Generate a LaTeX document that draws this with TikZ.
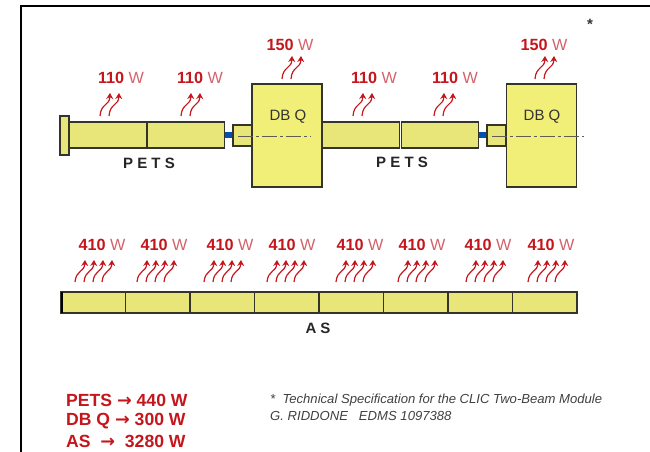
\documentclass[tikz,border=0pt]{standalone}
\usepackage{fontspec}
\setmainfont{Liberation Sans}
\newfontfamily\arrowfont{DejaVu Sans}
\usepackage{tikz}
\usetikzlibrary{arrows.meta}
\definecolor{heatred}{HTML}{C4161C}
\definecolor{wred}{HTML}{D4626A}
\definecolor{pale}{HTML}{E8E678}
\definecolor{paler}{HTML}{F1EF78}
\definecolor{edge}{HTML}{34342A}

\begin{document}
\begin{tikzpicture}[
        x=1pt, y=-1pt,
        part/.style={draw=edge, fill=pale, rectangle, line width=1.3pt, inner sep=0pt, outer sep=0pt},
        quad/.style={part, fill=paler, minimum width=70pt, minimum height=103pt},
        tank/.style={part, minimum width=77.5pt, minimum height=26pt},
        collar/.style={part, minimum width=19pt, minimum height=21pt},
        link/.style={draw=none, fill=blue!55!cyan!70!black, rectangle, inner sep=0pt, minimum width=8pt, minimum height=6pt},
        cell/.style={part, minimum width=64.5pt, minimum height=21pt},
        power/.style={font=\fontsize{16.2}{18}\selectfont, inner sep=0pt},
        partname/.style={font=\fontsize{15}{17}\selectfont\bfseries, text=black!85, inner sep=0pt},
        quadname/.style={font=\fontsize{15}{17}\selectfont, text=black!80, inner sep=0pt},
        total/.style={font=\fontsize{17.6}{19}\selectfont\bfseries, text=heatred, anchor=west, inner sep=0pt},
        note/.style={font=\fontsize{13.1}{15}\selectfont\itshape, text=black!75, anchor=west, inner sep=0pt},
        heat/.style={-{Stealth[length=6pt,width=7pt]}, heatred, line width=1.2pt},
        axis/.style={edge!80, line width=1pt, dash pattern=on 15pt off 3pt on 3pt off 3pt}
    ]
    \useasboundingbox (0,0) rectangle (650,452);

    % Frame
    \draw[black, line width=1.4pt] (21,452) -- (21,6) -- (650,6);

    % Upper line
    \node[part, minimum width=9pt, minimum height=39pt] (flange) at (64.5,135.5) {};
    \node[tank] (petsa) at (108,135) {};
    \node[tank] (petsb) at (186,135) {};
    \node[link] (linka) at (229,135) {};
    \node[collar] (collara) at (242.5,135.5) {};
    \node[quad] (quada) at (287,135.5) {};
    \node[tank] (petsc) at (361,135) {};
    \node[tank] (petsd) at (440,135) {};
    \node[link] (linkb) at (483,135) {};
    \node[collar] (collarb) at (496.5,135.5) {};
    \node[quad] (quadb) at (541.5,135.5) {};

    \coordinate (axa) at (238,136.5);
    \coordinate (axb) at (311,136.5);
    \coordinate (axc) at (492,136.5);
    \coordinate (axd) at (584,136.5);
    \draw[axis] (axa) -- (axb);
    \draw[axis] (axc) -- (axd);

    \node[quadname] (dbqa) at (288,117) {DB Q};
    \node[quadname] (dbqb) at (542,117) {DB Q};
    \node[partname] (petsnamea) at (149,163) {P E T S};
    \node[partname] (petsnameb) at (402,162) {P E T S};
    \node[font=\fontsize{15}{17}\selectfont\bfseries, text=black!80, inner sep=0pt] (star) at (590,24) {*};

    % Lower line
    \foreach \i/\x in {1/93.25, 2/157.75, 3/222.25, 4/286.75, 5/351.25, 6/415.75, 7/480.25, 8/544.75}
        \node[cell] (as\i) at (\x,302.5) {};
    \node[fill=black, rectangle, inner sep=0pt, minimum width=2.5pt, minimum height=21pt] (asend) at (62,302.5) {};
    \node[partname] (asname) at (318,328) {A S};

    % Power labels
    \foreach \x/\y/\p in {121/78/110, 200/78/110, 290/45/150, 374/78/110, 455/78/110, 544/45/150,
                          102/245/410, 164/245/410, 230/245/410, 292/245/410,
                          360/245/410, 422/245/410, 488/245/410, 551/245/410}
        \node[power] (w\x) at (\x,\y) {\textcolor{heatred}{\bfseries\p} \textcolor{wred}{W}};

    % Heat arrows
    \foreach \x/\y in {100/116, 181/116, 282/79, 353/116, 434/116, 535/79}
        \foreach \d in {0,9}
            \draw[heat] (\x+\d,\y) .. controls (\x+\d+1,\y-13) and (\x+\d+9.5,\y-10) .. (\x+\d+10,\y-23);
    \foreach \x in {75, 137, 204, 267, 336, 398, 466, 528}
        \foreach \d in {0,9,18,27}
            \draw[heat] (\x+\d,282) .. controls (\x+\d+1,270) and (\x+\d+9.5,272) .. (\x+\d+10,260);

    % Totals
    \node[total] (totala) at (66,400) {PETS {\arrowfont →} 440 W};
    \node[total] (totalb) at (66,421) {DB Q {\arrowfont →} 300 W};
    \node[total] (totalc) at (66,441) {AS \ {\arrowfont →} \ 3280 W};

    % Reference
    \node[note] (notea) at (270,400) {*\ \ Technical Specification for the CLIC Two-Beam Module};
    \node[note] (noteb) at (270,416) {G. RIDDONE \ \ EDMS 1097388};
\end{tikzpicture}
\end{document}
